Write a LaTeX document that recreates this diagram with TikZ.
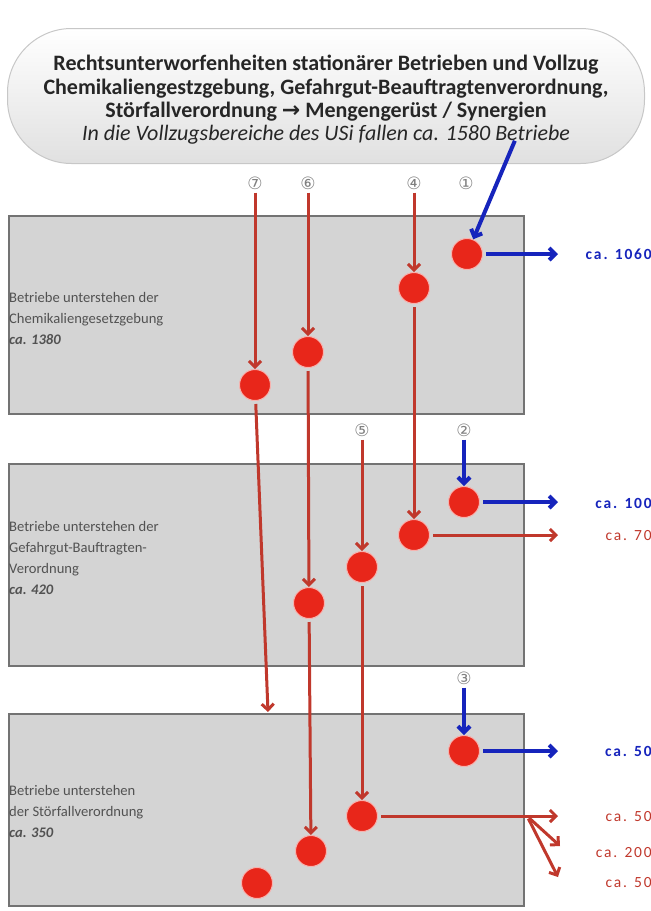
\documentclass[tikz,border=0pt]{standalone}
\usepackage{fontspec}
\setmainfont{Carlito}
\newfontfamily\symfont{DejaVu Sans}
\usetikzlibrary{arrows.meta}

\definecolor{rotpfeil}{RGB}{192,56,44}
\definecolor{rotpunkt}{RGB}{232,38,26}
\definecolor{blaupfeil}{RGB}{22,36,188}

\begin{document}
\begin{tikzpicture}[x=1pt, y=-1pt,
  box/.style={draw=black!55, line width=1.5pt, fill=black!17, anchor=north west, minimum width=515pt},
  pt/.style={circle, fill=rotpunkt, draw=rotpunkt!35, line width=1pt, minimum size=31pt, inner sep=0pt},
  nr/.style={font=\symfont\fontsize{17}{17}\selectfont, text=black!50, inner sep=0pt},
  txt/.style={anchor=west, align=left, inner sep=0pt, font=\fontsize{14.6}{21}\selectfont, text=black!68},
  r/.style={draw=rotpfeil, line width=3pt, -{Straight Barb[length=6pt,width=12pt]}},
  bl/.style={draw=blaupfeil, line width=4pt, -{Straight Barb[length=6pt,width=12pt]}},
  val/.style={anchor=east, inner sep=0pt, font=\fontsize{15.5}{15.5}\selectfont\addfontfeature{LetterSpace=12}},
  valb/.style={val, font=\bfseries\fontsize{15.5}{15.5}\selectfont\addfontfeature{LetterSpace=12}}]
\useasboundingbox (0,0) rectangle (651,911);
% Kopf
\node[draw=black!22, line width=1pt, top color=white, bottom color=black!12, rounded corners=64pt,
  minimum width=637pt, minimum height=135pt, align=center, font=\fontsize{22}{23.3}\selectfont] (kopf) at (326,96)
  {};
\node[align=center, font=\fontsize{22}{23.3}\selectfont, text=black!85] (kopftext) at (326,100)
  {\textbf{Rechtsunterworfenheiten stationärer Betrieben und Vollzug}\\
   \textbf{Chemikaliengestzgebung, Gefahrgut-Beauftragtenverordnung,}\\
   \textbf{Störfallverordnung {\symfont →} Mengengerüst / Synergien}\\
   \textit{In die Vollzugsbereiche des USi fallen ca. 1580 Betriebe}};
% Kaesten
\node[box, minimum height=198pt] (k1) at (8,215) {};
\node[box, minimum height=202pt] (k2) at (8,463) {};
\node[box, minimum height=192pt] (k3) at (8,713) {};
\node[txt] (t1) at (9,318) {Betriebe unterstehen der\\Chemikaliengesetzgebung\\\textbf{\textit{ca. 1380}}};
\node[txt] (t2) at (9,558) {Betriebe unterstehen der\\Gefahrgut-Bauftragten-\\Verordnung\\\textbf{\textit{ca. 420}}};
\node[txt] (t3) at (9,811) {Betriebe unterstehen\\der Störfallverordnung\\\textbf{\textit{ca. 350}}};
% Nummern
\node[nr] (n7) at (255,183) {⑦};
\node[nr] (n6) at (308,183) {⑥};
\node[nr] (n4) at (414,183) {④};
\node[nr] (n1) at (466,183) {①};
\node[nr] (n5) at (362,430) {⑤};
\node[nr] (n2) at (464,430) {②};
\node[nr] (n3) at (464,678) {③};
% Punkte
\node[pt] (a1) at (467,254) {};
\node[pt] (a4) at (414,288) {};
\node[pt] (a6) at (308,352) {};
\node[pt] (a7) at (255,385) {};
\node[pt] (b2) at (464,502) {};
\node[pt] (b4) at (414,535) {};
\node[pt] (b5) at (362,567) {};
\node[pt] (b6) at (309,603) {};
\node[pt] (c3) at (464,751) {};
\node[pt] (c5) at (362,816) {};
\node[pt] (c6) at (311,851) {};
\node[pt] (c7) at (257,883) {};
% Enden
\coordinate (q1) at (516,138);
\coordinate (e7) at (268,712);
\coordinate (z1) at (558,254);
\coordinate (z2) at (558,502);
\coordinate (z4) at (558,535);
\coordinate (z3) at (558,751);
\coordinate (g5) at (527,816);
\coordinate (z5) at (558,816);
\coordinate (z6) at (560,846);
\coordinate (z7) at (558,877);
% Werte
\node[valb, text=blaupfeil] (v1) at (652,254) {ca. 1060};
\node[valb, text=blaupfeil] (v2) at (652,503) {ca. 100};
\node[val, text=rotpfeil] (v4) at (652,536) {ca. 70};
\node[valb, text=blaupfeil] (v3) at (652,751) {ca. 50};
\node[val, text=rotpfeil] (v5) at (652,817) {ca. 50};
\node[val, text=rotpfeil] (v6) at (652,853) {ca. 200};
\node[val, text=rotpfeil] (v7) at (652,883) {ca. 50};
% Pfeile
\foreach \a/\b in {n7/a7, n6/a6, n4/a4, n5/b5, a4/b4, a6/b6, b6/c6, b5/c5, a7/e7, b4/z4, c5/z5, g5/z6, g5/z7}
  \draw[r, shorten <=3pt] (\a) -- (\b);
\foreach \a/\b in {q1/a1, n2/b2, n3/c3, a1/z1, b2/z2, c3/z3}
  \draw[bl, shorten <=3pt] (\a) -- (\b);
\end{tikzpicture}
\end{document}
